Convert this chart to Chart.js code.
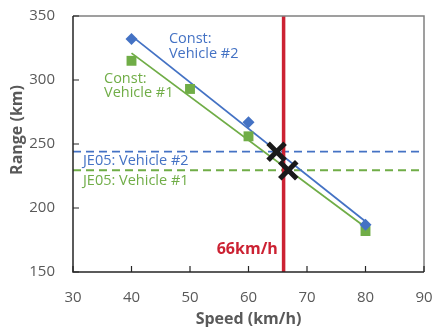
<!DOCTYPE html>
<html>
<head>
<meta charset="utf-8">
<script src="https://cdn.jsdelivr.net/npm/chart.js@4"></script>
<style>
  body { margin: 0; background: #fff; }
  canvas { display: block; }
</style>
</head>
<body>
<canvas id="chart" width="435" height="327"></canvas>
<script>
// measured ranges (km) per speed
const speedV2 = [40, 60, 80];
const rangeV2 = [332, 267, 187];
const speedV1 = [40, 50, 60, 80];
const rangeV1 = [315, 293, 256, 182];

const je05V2 = 244;
const je05V1 = 229.5;
const limitSpeed = 66;

// where the trend lines cross the JE05 ranges
const crossX = [64.8, 66.8];
const crossY = [244, 229.5];

const xTicks = [30, 40, 50, 60, 70, 80, 90];
const yTicks = [150, 200, 250, 300, 350];

const blue = '#4472C4';
const green = '#70AD47';
const red = '#CC2233';
const grey = '#595959';
const font = '"Open Sans", "Noto Sans", sans-serif';

// straight line fit, used for the trend lines
function fit(xs, ys) {
    const n = xs.length;
    const mx = xs.reduce((a, b) => a + b, 0) / n;
    const my = ys.reduce((a, b) => a + b, 0) / n;
    let sxy = 0, sxx = 0;
    for (let i = 0; i < n; ++i) {
        sxy += (xs[i] - mx) * (ys[i] - my);
        sxx += (xs[i] - mx) * (xs[i] - mx);
    }
    const k = sxy / sxx;
    const x0 = Math.min(...xs), x1 = Math.max(...xs);
    return [{x: x0, y: my + k * (x0 - mx)}, {x: x1, y: my + k * (x1 - mx)}];
}

const pts = (xs, ys) => xs.map((x, i) => ({x: x, y: ys[i]}));

// text labels, anchored in data units
const notes = [
    {lines: ['Const:', 'Vehicle #2'], x: 46.4, y: 332, color: blue, align: 'left'},
    {lines: ['Const:', 'Vehicle #1'], x: 35.3, y: 301, color: green, align: 'left'},
    {lines: ['JE05: Vehicle #2'], x: 31.7, y: 237, color: blue, align: 'left'},
    {lines: ['JE05: Vehicle #1'], x: 31.7, y: 221, color: green, align: 'left'},
    {lines: ['66km/h'], x: 65, y: 168, color: red, align: 'right', bold: true}
];

const frame = {
    id: 'frame',
    afterDatasetsDraw(chart) {
        const ctx = chart.ctx;
        const a = chart.chartArea;
        const xs = chart.scales.x, ys = chart.scales.y;
        ctx.save();
        // top / right border
        ctx.strokeStyle = '#808080';
        ctx.lineWidth = 1.5;
        ctx.beginPath();
        ctx.moveTo(a.left, a.top);
        ctx.lineTo(a.right, a.top);
        ctx.lineTo(a.right, a.bottom);
        ctx.stroke();
        // axes
        ctx.strokeStyle = '#262626';
        ctx.beginPath();
        ctx.moveTo(a.left, a.top);
        ctx.lineTo(a.left, a.bottom);
        ctx.lineTo(a.right, a.bottom);
        ctx.stroke();
        // inward tick marks
        ctx.lineWidth = 1.2;
        ctx.beginPath();
        yTicks.forEach(v => {
            const y = ys.getPixelForValue(v);
            ctx.moveTo(a.left, y);
            ctx.lineTo(a.left + 6, y);
        });
        xTicks.forEach(v => {
            const x = xs.getPixelForValue(v);
            ctx.moveTo(x, a.bottom);
            ctx.lineTo(x, a.bottom - 6);
        });
        ctx.stroke();
        // labels
        notes.forEach(n => {
            ctx.font = n.bold ? 'bold 16px ' + font : '14.5px ' + font;
            ctx.fillStyle = n.color;
            ctx.textAlign = n.align;
            ctx.textBaseline = 'middle';
            const x = xs.getPixelForValue(n.x);
            const y = ys.getPixelForValue(n.y);
            n.lines.forEach((t, i) => ctx.fillText(t, x, y + i * 14.5));
        });
        // y axis title
        ctx.translate(17, 130);
        ctx.rotate(-Math.PI / 2);
        ctx.font = 'bold 16px ' + font;
        ctx.fillStyle = grey;
        ctx.textAlign = 'center';
        ctx.fillText('Range (km)', 0, 0);
        ctx.restore();
    }
};

new Chart(document.getElementById('chart'), {
    type: 'scatter',
    data: {
        datasets: [
            {
                data: pts(crossX, crossY),
                pointStyle: 'crossRot',
                pointRadius: 12,
                borderWidth: 5,
                borderColor: '#1a1a1a',
                backgroundColor: '#1a1a1a'
            },
            {
                data: [{x: limitSpeed, y: 150}, {x: limitSpeed, y: 350}],
                showLine: true,
                pointRadius: 0,
                borderColor: red,
                borderWidth: 3.5
            },
            {
                data: pts(speedV2, rangeV2),
                pointStyle: 'rectRot',
                pointRadius: 6,
                borderWidth: 0,
                backgroundColor: blue,
                borderColor: blue
            },
            {
                data: pts(speedV1, rangeV1),
                pointStyle: 'rect',
                pointRadius: 7,
                borderWidth: 0,
                backgroundColor: green,
                borderColor: green
            },
            {
                data: fit(speedV2, rangeV2),
                showLine: true,
                pointRadius: 0,
                borderColor: blue,
                borderWidth: 1.8
            },
            {
                data: fit(speedV1, rangeV1),
                showLine: true,
                pointRadius: 0,
                borderColor: green,
                borderWidth: 1.8
            },
            {
                data: [{x: 30, y: je05V2}, {x: 90, y: je05V2}],
                showLine: true,
                pointRadius: 0,
                borderColor: blue,
                borderWidth: 1.8,
                borderDash: [8, 5]
            },
            {
                data: [{x: 30, y: je05V1}, {x: 90, y: je05V1}],
                showLine: true,
                pointRadius: 0,
                borderColor: green,
                borderWidth: 1.8,
                borderDash: [8, 5]
            }
        ]
    },
    options: {
        responsive: false,
        devicePixelRatio: 1,
        animation: false,
        layout: { autoPadding: false, padding: { top: 16, right: 11, left: 0, bottom: 0 } },
        plugins: { legend: { display: false }, tooltip: { enabled: false } },
        scales: {
            x: {
                type: 'linear',
                min: 30, max: 90,
                afterFit: s => { s.height = 55; s.paddingLeft = 0; s.paddingRight = 0; },
                afterBuildTicks: s => { s.ticks = xTicks.map(v => ({value: v})); },
                grid: { display: false, drawTicks: false },
                border: { display: false },
                ticks: { color: grey, font: { family: font, size: 15 }, padding: 17 },
                title: {
                    display: true, text: 'Speed (km/h)', color: grey,
                    font: { family: font, size: 16, weight: 'bold', lineHeight: 1 },
                    padding: 0
                }
            },
            y: {
                type: 'linear',
                min: 150, max: 350,
                afterFit: s => { s.width = 73; s.paddingTop = 0; s.paddingBottom = 0; },
                afterBuildTicks: s => { s.ticks = yTicks.map(v => ({value: v})); },
                grid: { display: false, drawTicks: false },
                border: { display: false },
                ticks: { color: grey, font: { family: font, size: 15 }, padding: 18 },
                title: { display: false }
            }
        }
    },
    plugins: [frame]
});
</script>
</body>
</html>
